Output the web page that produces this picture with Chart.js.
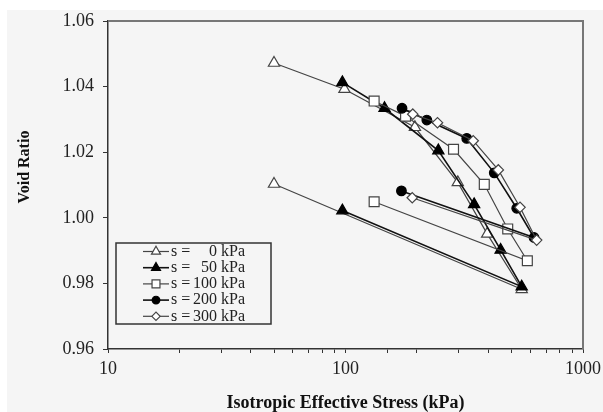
<!DOCTYPE html>
<html>
<head>
<meta charset="utf-8">
<script src="https://cdn.jsdelivr.net/npm/chart.js@4.4.1/dist/chart.umd.min.js"></script>
<style>
  html, body { margin: 0; padding: 0; background: #fff; }
  #caixa { width: 603px; height: 412px; }
</style>
</head>
<body>
<div id="caixa"><canvas id="vazios" width="603" height="412"></canvas></div>
<script>
// sucção de cada ensaio (kPa)
const succoes = [0, 50, 100, 200, 300];

// tensão efetiva isotrópica (kPa) - carregamento e depois descarregamento
const tensao0   = [50, 99, 196, 297, 395, 552, 50];
const tensao50  = [97, 146, 246, 348, 450, 552, 97];
const tensao100 = [132, 179, 285, 384, 482, 583, 132];
const tensao200 = [173, 220, 324, 423, 526, 622, 172];
const tensao300 = [192, 244, 345, 440, 543, 638, 191];

// índice de vazios
const vazios0   = [1.0472, 1.0392, 1.0276, 1.0108, 0.9951, 0.9782, 1.0103];
const vazios50  = [1.0413, 1.0334, 1.0205, 1.0041, 0.9902, 0.9790, 1.0022];
const vazios100 = [1.0356, 1.0310, 1.0209, 1.0102, 0.9966, 0.9869, 1.0049];
const vazios200 = [1.0334, 1.0298, 1.0242, 1.0137, 1.0029, 0.9940, 1.0082];
const vazios300 = [1.0316, 1.0290, 1.0235, 1.0146, 1.0032, 0.9932, 1.0061];

const eixoX = [10, 100, 1000]; // rótulos do eixo X
const eixoY = [0.96, 0.98, 1.00, 1.02, 1.04, 1.06];

const pontos = (xs, ys) => xs.map((x, i) => ({ x: x, y: ys[i] }));
const serif = '"Liberation Serif", "Times New Roman", serif';
const fundo = '#f5f5f5';

const ensaios = [
  { x: tensao0,   y: vazios0,   estilo: 'triangle', raio: 6.5, cheio: false },
  { x: tensao50,  y: vazios50,  estilo: 'triangle', raio: 6.5, cheio: true },
  { x: tensao100, y: vazios100, estilo: 'rect',     raio: 7,   cheio: false },
  { x: tensao200, y: vazios200, estilo: 'circle',   raio: 4.8, cheio: true },
  { x: tensao300, y: vazios300, estilo: 'rectRot',  raio: 5.2, cheio: false }
];

const datasets = ensaios.map((e, i) => ({
  label: 's = ' + succoes[i] + ' kPa',
  data: pontos(e.x, e.y),
  showLine: true,
  borderColor: e.cheio ? '#111' : '#444',
  borderWidth: e.cheio ? 1.6 : 1.2,
  pointStyle: e.estilo,
  pointRadius: e.raio,
  pointHoverRadius: e.raio,
  pointBackgroundColor: e.cheio ? '#000' : '#fff',
  pointBorderColor: e.cheio ? '#000' : '#444',
  pointBorderWidth: 1.2,
  order: ensaios.length - i
}));

// fundo cinza, moldura e título do eixo Y
const moldura = {
  id: 'moldura',
  beforeDraw(chart) {
    const c = chart.ctx;
    c.save();
    c.fillStyle = '#fff';
    c.fillRect(0, 0, chart.width, chart.height);
    c.fillStyle = fundo;
    c.fillRect(7, 10, chart.width - 7, chart.height - 10);
    c.restore();
  },
  beforeDatasetsDraw(chart) {
    const c = chart.ctx, a = chart.chartArea;
    c.save();
    c.strokeStyle = '#777';
    c.lineWidth = 2;
    c.beginPath();
    c.moveTo(a.left, a.top);
    c.lineTo(a.right, a.top);
    c.lineTo(a.right, a.bottom);
    c.stroke();
    c.restore();
  },
  afterDraw(chart) {
    const c = chart.ctx;
    c.save();
    c.translate(25, 167);
    c.rotate(-Math.PI / 2);
    c.font = 'bold 16px ' + serif;
    c.fillStyle = '#111';
    c.textAlign = 'center';
    c.textBaseline = 'middle';
    c.fillText('Void Ratio', 0, 0);
    c.restore();
  }
};

// legenda em caixa, dentro da área do gráfico
const legenda = {
  id: 'legenda',
  afterDatasetsDraw(chart) {
    const c = chart.ctx;
    c.save();
    c.fillStyle = fundo;
    c.fillRect(116, 243, 155, 81);
    c.strokeStyle = '#333';
    c.lineWidth = 1.5;
    c.strokeRect(116, 243, 155, 81);
    chart.data.datasets.forEach((ds, i) => {
      const y = 251.5 + i * 16.2;
      c.strokeStyle = ds.borderColor;
      c.lineWidth = ds.borderWidth;
      c.beginPath();
      c.moveTo(143, y);
      c.lineTo(169, y);
      c.stroke();
      c.fillStyle = ds.pointBackgroundColor;
      c.strokeStyle = ds.pointBorderColor;
      c.lineWidth = 1.2;
      Chart.helpers.drawPoint(c, { pointStyle: ds.pointStyle, radius: ds.pointRadius * 0.8, borderWidth: 1.2, rotation: 0 }, 156, y);
      c.fillStyle = '#222';
      c.font = '16px ' + serif;
      c.textBaseline = 'middle';
      c.textAlign = 'left';
      c.fillText('s =', 171, y);
      c.textAlign = 'right';
      c.fillText(String(succoes[i]), 217, y);
      c.textAlign = 'left';
      c.fillText('kPa', 221, y);
    });
    c.restore();
  }
};

const ctx = document.getElementById('vazios').getContext('2d');

const grafico = new Chart(ctx, {
  type: 'scatter',
  data: { datasets: datasets },
  options: {
    responsive: false,
    animation: false,
    devicePixelRatio: 1,
    layout: { padding: { top: 21, right: 20, left: 0, bottom: 0 } },
    plugins: {
      legend: { display: false },
      tooltip: { enabled: false }
    },
    elements: { line: { tension: 0 } },
    scales: {
      x: {
        type: 'logarithmic',
        min: 10,
        max: 1000,
        afterFit: s => { s.height = 63; s.paddingLeft = 0; s.paddingRight = 0; },
        border: { display: true, color: '#333', width: 1.5 },
        grid: { drawOnChartArea: false, drawTicks: true, tickLength: 4, color: '#333', lineWidth: 1 },
        ticks: {
          autoSkip: false,
          maxRotation: 0,
          padding: 5,
          color: '#222',
          font: { family: serif, size: 18 },
          callback: v => eixoX.includes(v) ? String(v) : ''
        },
        title: {
          display: true,
          text: 'Isotropic Effective Stress (kPa)',
          color: '#111',
          font: { family: serif, size: 18, weight: 'bold' },
          padding: { top: 0, bottom: -2 }
        }
      },
      y: {
        min: 0.96,
        max: 1.06,
        afterFit: s => { s.width = 108; s.paddingTop = 0; s.paddingBottom = 0; },
        afterBuildTicks: s => { s.ticks = eixoY.map(v => ({ value: v })); },
        border: { display: true, color: '#333', width: 1.5 },
        grid: { drawOnChartArea: false, drawTicks: true, tickLength: 5, color: '#333' },
        ticks: {
          padding: 9,
          color: '#222',
          font: { family: serif, size: 18 },
          callback: v => v.toFixed(2)
        }
      }
    }
  },
  plugins: [moldura, legenda]
});
</script>
</body>
</html>
